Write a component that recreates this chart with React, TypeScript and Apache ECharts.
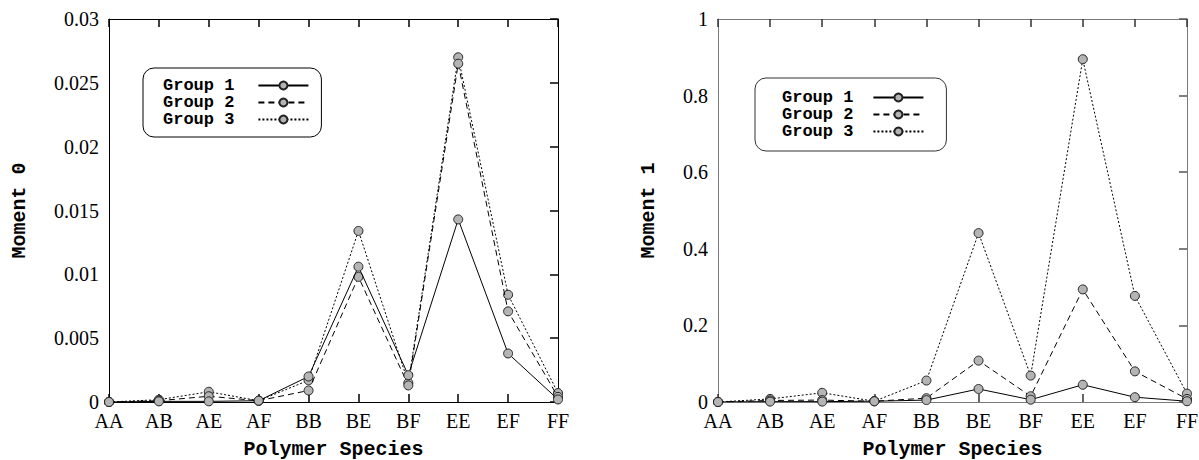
import React, { useEffect, useRef } from "react";
import * as echarts from "echarts";

const categories = ["AA", "AB", "AE", "AF", "BB", "BE", "BF", "EE", "EF", "FF"];
const groupNames = ["Group 1", "Group 2", "Group 3"];

const moment0Group1 = [0, 0.00005, 0.00005, 0.0001, 0.002, 0.0106, 0.0021, 0.0143, 0.0038, 0.0002];
const moment0Group2 = [0, 0.0001, 0.00045, 0.0001, 0.0009, 0.0098, 0.0013, 0.0265, 0.0071, 0.0004];
const moment0Group3 = [0, 0.00018, 0.0008, 0.0001, 0.0017, 0.0134, 0.0015, 0.027, 0.0084, 0.0007];

const moment1Group1 = [0, 0.001, 0.001, 0.002, 0.005, 0.034, 0.006, 0.045, 0.0125, 0.002];
const moment1Group2 = [0, 0.004, 0.005, 0.002, 0.01, 0.108, 0.015, 0.294, 0.08, 0.008];
const moment1Group3 = [0, 0.008, 0.024, 0.002, 0.056, 0.441, 0.069, 0.895, 0.277, 0.022];

const SERIF = "'Liberation Serif', 'Times New Roman', serif";
const MONO = "'Liberation Mono', 'DejaVu Sans Mono', monospace";

const lineTypes: any[] = ["solid", [6, 4], [2, 2]];

export default function App() {
  const ref = useRef<HTMLDivElement>(null);
  useEffect(() => {
    document.body.style.margin = "0";
    const chart = echarts.init(ref.current!, null, { renderer: "svg" });

    const nameStyle = { fontFamily: MONO, fontWeight: "bold", fontSize: 20, color: "#000" };

    const xAxes = (gridIndex: number, frame: string, tick: string) => [
      {
        gridIndex,
        type: "category",
        data: categories,
        boundaryGap: false,
        position: "bottom",
        axisLine: { show: true, onZero: false, lineStyle: { color: frame, width: 1 } },
        axisTick: { show: true, inside: true, length: 8, interval: 0, lineStyle: { color: tick, width: 1.5 } },
        axisLabel: { fontFamily: SERIF, fontSize: 20, color: "#000", margin: 9, interval: 0 },
        splitLine: { show: false },
        name: "Polymer Species",
        nameLocation: "middle",
        nameGap: 37,
        nameTextStyle: nameStyle,
      },
      {
        gridIndex,
        type: "category",
        data: categories,
        boundaryGap: false,
        position: "top",
        axisLine: { show: true, onZero: false, lineStyle: { color: frame, width: 1 } },
        axisTick: { show: true, inside: true, length: 8, interval: 0, lineStyle: { color: tick, width: 1.5 } },
        axisLabel: { show: false },
        splitLine: { show: false },
      },
    ];

    const yAxes = (gridIndex: number, max: number, interval: number, name: string, nameGap: number, frame: string, tick: string) => [
      {
        gridIndex,
        type: "value",
        min: 0,
        max,
        interval,
        position: "left",
        axisLine: { show: true, onZero: false, lineStyle: { color: frame, width: 1 } },
        axisTick: { show: false },
        axisLabel: { fontFamily: SERIF, fontSize: 20, color: "#000", margin: 10 },
        splitLine: { show: false },
        name,
        nameLocation: "middle",
        nameGap,
        nameTextStyle: nameStyle,
      },
      {
        gridIndex,
        type: "value",
        min: 0,
        max,
        interval,
        position: "right",
        axisLine: { show: true, onZero: false, lineStyle: { color: frame, width: 1 } },
        axisTick: { show: true, inside: true, length: 8, lineStyle: { color: tick, width: 1.5 } },
        axisLabel: { show: false },
        splitLine: { show: false },
      },
    ];

    const mkSeries = (data: number[], idx: number, xAxisIndex: number, yAxisIndex: number) => ({
      type: "line",
      name: groupNames[idx],
      xAxisIndex,
      yAxisIndex,
      data,
      symbol: "circle",
      symbolSize: 9,
      showSymbol: true,
      lineStyle: { color: "#000", width: 1, type: lineTypes[idx] },
      itemStyle: { color: "#b4b4b4", borderColor: "#222", borderWidth: 1 },
      emphasis: { disabled: true },
      z: 5 - idx,
    });

    const legendBase = (left: number, top: number, padding: number[], textGap: number, border: string) => ({
      orient: "vertical",
      align: "right",
      left,
      top,
      data: groupNames,
      selectedMode: false,
      itemGap: 0,
      itemWidth: 50,
      itemHeight: 10,
      padding,
      borderColor: border,
      borderWidth: 1,
      borderRadius: 11,
      textStyle: {
        fontFamily: MONO,
        fontWeight: "bold",
        fontSize: 17,
        lineHeight: 17,
        color: "#000",
        padding: [0, textGap, 0, 0],
      },
    });

    chart.setOption({
      animation: false,
      backgroundColor: "#fff",
      grid: [
        { left: 109, top: 19, width: 449, height: 383, outerBoundsMode: "none", containLabel: false },
        { left: 718, top: 19, width: 469, height: 383, outerBoundsMode: "none", containLabel: false },
      ],
      xAxis: [...xAxes(0, "#000", "#000"), ...xAxes(1, "#7a7a7a", "#333")],
      yAxis: [
        ...yAxes(0, 0.03, 0.005, "Moment 0", 80, "#000", "#000"),
        ...yAxes(1, 1, 0.2, "Moment 1", 60, "#7a7a7a", "#555"),
      ],
      legend: [
        legendBase(143, 68, [9, 12, 9, 20], 19, "#000"),
        legendBase(755, 78, [11, 22, 11, 27], 15, "#333"),
      ],
      series: [
        mkSeries(moment0Group1, 0, 0, 0),
        mkSeries(moment0Group2, 1, 0, 0),
        mkSeries(moment0Group3, 2, 0, 0),
        mkSeries(moment1Group1, 0, 2, 2),
        mkSeries(moment1Group2, 1, 2, 2),
        mkSeries(moment1Group3, 2, 2, 2),
      ],
    });
    return () => chart.dispose();
  }, []);
  return <div ref={ref} style={{ width: 1199, height: 460 }} />;
}
